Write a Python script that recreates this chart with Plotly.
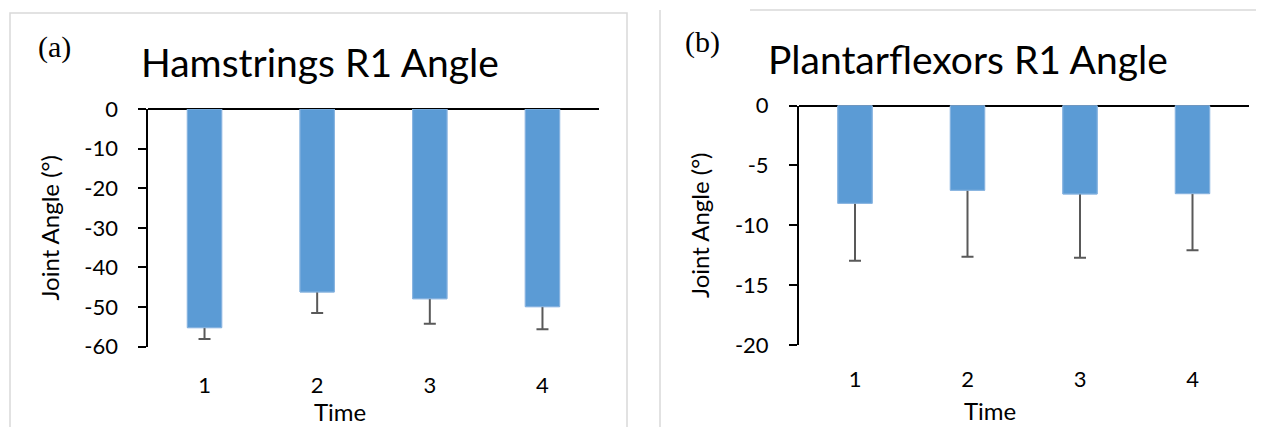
import plotly.graph_objects as go

# ---- data ----
times = ["1", "2", "3", "4"]
ham_mean = [-55.2, -46.2, -47.9, -49.9]
ham_sd = [2.85, 5.3, 6.3, 5.7]
pf_mean = [-8.17, -7.08, -7.39, -7.36]
pf_sd = [4.79, 5.55, 5.32, 4.73]
ham_ticks = [0, -10, -20, -30, -40, -50, -60]
ham_ticktext = ["0", "-10", "-20", "-30", "-40", "-50", "-60"]
pf_ticks = [0, -5, -10, -15, -20]
pf_ticktext = ["0", "-5", "-10", "-15", "-20"]

# page body has an 8px margin; figure sized to fill the rest of the window
OFF = 8
W, H = 1264 - OFF, 427 - OFF
BAR = "#5B9BD5"
EDGE = "#8CB6E1"
ERR = "#595959"
FONT = "Lato"

def px(x):
    return (x - OFF) / W

def py(y):
    return 1 - (y - OFF) / H

fig = go.Figure()

panels = [
    ("x", "y", ham_mean, ham_sd),
    ("x2", "y2", pf_mean, pf_sd),
]
for xa, ya, m, sd in panels:
    # bar with error bar, covered by an identical bar so only the lower whisker shows
    fig.add_trace(go.Bar(
        x=times, y=m, xaxis=xa, yaxis=ya,
        marker=dict(color=BAR, line=dict(color=EDGE, width=1)),
        error_y=dict(type="data", array=sd, symmetric=True, color=ERR, thickness=2, width=6),
        showlegend=False, hoverinfo="skip",
    ))
    fig.add_trace(go.Bar(
        x=times, y=m, xaxis=xa, yaxis=ya,
        marker=dict(color=BAR, line=dict(color=EDGE, width=1)),
        showlegend=False,
    ))

tickfont = dict(family=FONT, size=22, color="black")
titlefont = dict(family=FONT, size=24, color="black")

xcommon = dict(
    type="category", range=[-0.5, 3.5], showline=False, ticks="",
    showgrid=False, zeroline=False, tickfont=tickfont, automargin=False,
)
ycommon = dict(
    showline=True, linecolor="black", linewidth=1.5, ticks="outside",
    ticklen=8, tickwidth=1.5, tickcolor="black", showgrid=False,
    zeroline=True, zerolinecolor="black", zerolinewidth=2,
    tickfont=tickfont, ticklabelstandoff=16, automargin=False,
)

fig.update_layout(
    width=W, height=H,
    margin=dict(l=0, r=0, t=0, b=0, autoexpand=False),
    paper_bgcolor="white", plot_bgcolor="white",
    barmode="overlay", bargap=0.695,
    xaxis=dict(domain=[px(148.2), px(598.8)], anchor="y", ticklabelstandoff=23, **xcommon),
    yaxis=dict(domain=[py(346.7), py(109)], anchor="x", range=[-60, 0],
               tickvals=ham_ticks, ticktext=ham_ticktext,
               title=dict(text="Joint Angle (°)", font=titlefont, standoff=18), **ycommon),
    xaxis2=dict(domain=[px(798.75), px(1248.75)], anchor="y2", ticklabelstandoff=19, **xcommon),
    yaxis2=dict(domain=[py(345), py(105.5)], anchor="x2", range=[-20, 0],
                tickvals=pf_ticks, ticktext=pf_ticktext,
                title=dict(text="Joint Angle (°)", font=titlefont, standoff=18), **ycommon),
    shapes=[
        dict(type="rect", xref="paper", yref="paper", x0=px(10), x1=px(627), y0=py(440), y1=py(13),
             line=dict(color="#D9D9D9", width=1.5), fillcolor="rgba(0,0,0,0)", layer="below"),
        dict(type="line", xref="paper", yref="paper", x0=px(750), x1=px(1280), y0=py(10), y1=py(10),
             line=dict(color="#D9D9D9", width=1.5), layer="below"),
        dict(type="line", xref="paper", yref="paper", x0=px(660), x1=px(660), y0=py(10), y1=py(440),
             line=dict(color="#D9D9D9", width=1.5), layer="below"),
    ],
    annotations=[
        dict(text="(a)", x=px(54), y=py(47), xref="paper", yref="paper", showarrow=False,
             xanchor="center", yanchor="middle",
             font=dict(family="Liberation Serif", size=30, color="black")),
        dict(text="(b)", x=px(702), y=py(42), xref="paper", yref="paper", showarrow=False,
             xanchor="center", yanchor="middle",
             font=dict(family="Liberation Serif", size=30, color="black")),
        dict(text="Hamstrings R1 Angle", x=px(319.5), y=py(62), xref="paper", yref="paper",
             showarrow=False, xanchor="center", yanchor="middle",
             font=dict(family=FONT, size=39, color="black")),
        dict(text="Plantarflexors R1 Angle", x=px(968), y=py(59), xref="paper", yref="paper",
             showarrow=False, xanchor="center", yanchor="middle",
             font=dict(family=FONT, size=39, color="black")),
        dict(text="Time", x=px(340), y=py(411), xref="paper", yref="paper",
             showarrow=False, xanchor="center", yanchor="middle", font=titlefont),
        dict(text="Time", x=px(990), y=py(410), xref="paper", yref="paper",
             showarrow=False, xanchor="center", yanchor="middle", font=titlefont),
    ],
)

fig.write_html("out.html")
